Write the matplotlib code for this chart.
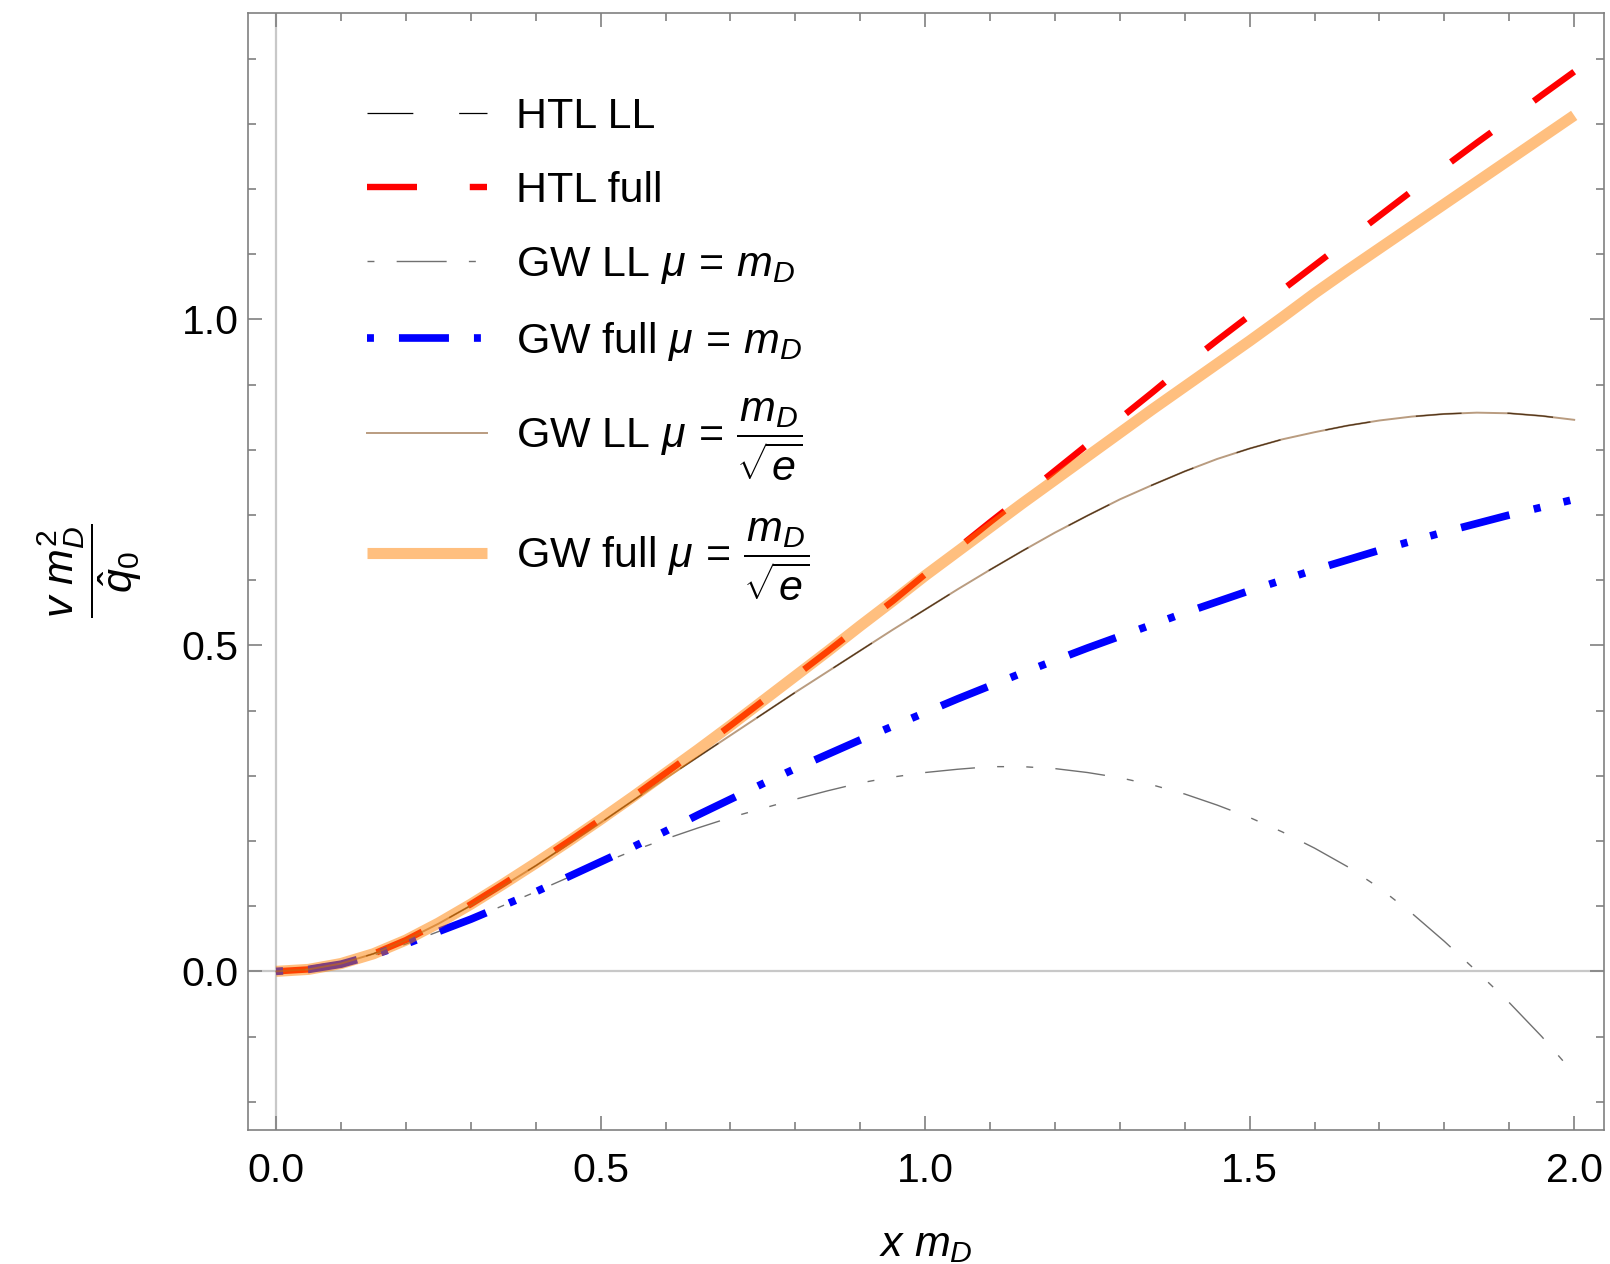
import matplotlib
matplotlib.use("Agg")
import matplotlib.pyplot as plt
from matplotlib.ticker import MultipleLocator

plt.rcParams["font.family"] = ["Liberation Sans", "DejaVu Sans"]
plt.rcParams["mathtext.fontset"] = "custom"
plt.rcParams["mathtext.rm"] = "Liberation Sans"
plt.rcParams["mathtext.it"] = "Liberation Sans:italic"
plt.rcParams["mathtext.bf"] = "Liberation Sans:bold"
plt.rcParams["lines.scale_dashes"] = False

# x m_D grid and the six curves (v m_D^2 / qhat_0)
x_md = [0.00, 0.05, 0.10, 0.15, 0.20, 0.25, 0.30, 0.35, 0.40, 0.45,
        0.50, 0.55, 0.60, 0.65, 0.70, 0.75, 0.80, 0.85, 0.90, 0.95,
        1.00, 1.05, 1.10, 1.15, 1.20, 1.25, 1.30, 1.35, 1.40, 1.45,
        1.50, 1.55, 1.60, 1.65, 1.70, 1.75, 1.80, 1.85, 1.90, 1.95, 2.00]

htl_ll = [0.000, 0.003, 0.012, 0.027, 0.048, 0.073, 0.101, 0.131, 0.162, 0.195,
          0.228, 0.262, 0.296, 0.329, 0.362, 0.395, 0.428, 0.460, 0.492, 0.524,
          0.555, 0.586, 0.616, 0.645, 0.673, 0.699, 0.724, 0.746, 0.767, 0.786,
          0.802, 0.816, 0.827, 0.837, 0.845, 0.851, 0.855, 0.857, 0.856, 0.852, 0.846]

htl_full = [0.000, 0.003, 0.012, 0.027, 0.048, 0.074, 0.103, 0.134, 0.166, 0.199,
            0.233, 0.268, 0.304, 0.340, 0.377, 0.415, 0.453, 0.491, 0.530, 0.568,
            0.609, 0.649, 0.689, 0.728, 0.768, 0.808, 0.848, 0.888, 0.929, 0.968,
            1.006, 1.045, 1.083, 1.121, 1.159, 1.197, 1.234, 1.271, 1.307, 1.344, 1.380]

gw_ll_md = [0.000, 0.003, 0.011, 0.025, 0.042, 0.061, 0.080, 0.101, 0.122, 0.144,
            0.165, 0.185, 0.203, 0.220, 0.236, 0.250, 0.264, 0.277, 0.289, 0.298,
            0.305, 0.310, 0.314, 0.314, 0.311, 0.305, 0.297, 0.286, 0.272, 0.255,
            0.236, 0.214, 0.189, 0.161, 0.128, 0.089, 0.046, 0.000, -0.048, -0.100, -0.157]

gw_full_md = [0.000, 0.003, 0.011, 0.025, 0.042, 0.061, 0.080, 0.101, 0.122, 0.145,
              0.168, 0.191, 0.215, 0.240, 0.264, 0.288, 0.311, 0.333, 0.355, 0.376,
              0.397, 0.418, 0.438, 0.458, 0.477, 0.496, 0.514, 0.532, 0.550, 0.567,
              0.584, 0.600, 0.616, 0.631, 0.646, 0.660, 0.674, 0.687, 0.700, 0.712, 0.724]

gw_ll_md_sqrte = [0.000, 0.003, 0.012, 0.027, 0.048, 0.073, 0.101, 0.131, 0.162, 0.195,
                  0.228, 0.262, 0.296, 0.329, 0.362, 0.395, 0.428, 0.460, 0.492, 0.524,
                  0.555, 0.586, 0.616, 0.645, 0.673, 0.699, 0.724, 0.746, 0.767, 0.786,
                  0.802, 0.816, 0.827, 0.837, 0.845, 0.851, 0.855, 0.857, 0.856, 0.852, 0.846]

gw_full_md_sqrte = [0.000, 0.003, 0.012, 0.027, 0.048, 0.074, 0.103, 0.134, 0.166, 0.199,
                    0.233, 0.268, 0.304, 0.340, 0.377, 0.415, 0.453, 0.491, 0.530, 0.568,
                    0.607, 0.644, 0.681, 0.718, 0.754, 0.790, 0.826, 0.862, 0.897, 0.932,
                    0.967, 1.003, 1.040, 1.075, 1.109, 1.143, 1.177, 1.211, 1.245, 1.279, 1.313]

labels = [
    "HTL LL",
    "HTL full",
    r"GW LL $\mu\,=\,m_D$",
    r"GW full $\mu\,=\,m_D$",
    r"GW LL $\mu\,=\,\dfrac{m_D}{\sqrt{e}}$",
    r"GW full $\mu\,=\,\dfrac{m_D}{\sqrt{e}}$",
]

fig = plt.figure(figsize=(16.1, 12.64), dpi=100)
ax = fig.add_axes([0.1543, 0.1064, 0.8420, 0.8833])

ax.axhline(0, color="#c8c8c8", lw=1.6, zorder=0)
ax.axvline(0, color="#c8c8c8", lw=1.6, zorder=0)

ax.plot(x_md, htl_ll, color="black", lw=0.9, linestyle=(0, (33, 33)),
        dash_capstyle="butt", label=labels[0])
ax.plot(x_md, htl_full, color="#ff0000", lw=4.6, linestyle=(0, (36, 38)),
        dash_capstyle="butt", label=labels[1])
ax.plot(x_md, gw_ll_md, color="#707070", lw=1.0,
        linestyle=(73, (36, 16, 5, 16, 5, 16)), dash_capstyle="butt", label=labels[2])
ax.plot(x_md, gw_full_md, color="#0000ff", lw=5.5,
        linestyle=(76, (36, 18, 5, 17, 5, 18)), dash_capstyle="butt", label=labels[3])
ax.plot(x_md, gw_ll_md_sqrte, color="#8b5a2b", alpha=0.6, lw=1.4, label=labels[4])
ax.plot(x_md, gw_full_md_sqrte, color="#ff8000", alpha=0.5, lw=8,
        solid_capstyle="butt", label=labels[5])

ax.set_xlim(-0.0427, 2.046)
ax.set_ylim(-0.2426, 1.470)
ax.xaxis.set_major_locator(MultipleLocator(0.5))
ax.xaxis.set_minor_locator(MultipleLocator(0.1))
ax.yaxis.set_major_locator(MultipleLocator(0.5))
ax.yaxis.set_minor_locator(MultipleLocator(0.1))

for sp in ax.spines.values():
    sp.set_color("#808080")
    sp.set_linewidth(1.2)
ax.tick_params(which="both", direction="in", top=True, right=True,
               color="#808080", width=1.2, labelsize=29.5)
ax.tick_params(which="major", length=10)
ax.tick_params(which="minor", length=5.5)
ax.tick_params(axis="x", pad=16)
ax.tick_params(axis="y", pad=7)

ax.set_xlabel(r"$x\ m_D$", fontsize=31, va="center")
ax.xaxis.set_label_coords(0.5, -0.1035)
ax.set_ylabel(r"$\dfrac{v\ m_D^2}{\hat{q}_0}$", fontsize=31, va="center")
ax.yaxis.set_label_coords(-0.117, 0.5)

ax.legend(loc="upper left", bbox_to_anchor=(0.0874, 0.925), frameon=False,
          fontsize=31, handlelength=2.8, handletextpad=0.67, labelspacing=0.79,
          borderpad=0, borderaxespad=0)

fig.savefig("out.png", dpi=100)
